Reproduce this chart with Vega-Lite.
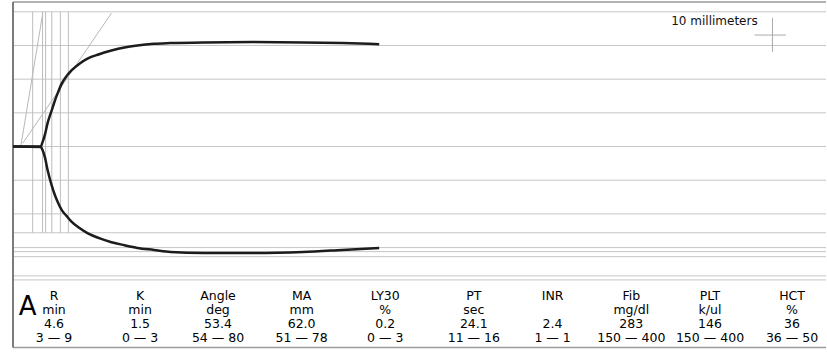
{
  "$schema": "https://vega.github.io/schema/vega-lite/v6.json",
  "width": 827,
  "height": 352,
  "autosize": {"type": "fit", "contains": "padding"},
  "padding": {"left": 8, "top": 0, "right": 0, "bottom": 0},
  "background": "white",
  "config": {"view": {"stroke": null}, "text": {"font": "DejaVu Sans"}},
  "datasets": {
    "curve": [
      {"t": 0, "upper": 0, "lower": 0},
      {"t": 4.5, "upper": 0, "lower": -0.15},
      {"t": 4.8, "upper": 1.3, "lower": -1.0},
      {"t": 5.2, "upper": 3.6, "lower": -3.3},
      {"t": 5.6, "upper": 6.8, "lower": -6.8},
      {"t": 6.3, "upper": 10.8, "lower": -11.6},
      {"t": 6.8, "upper": 13.6, "lower": -14.4},
      {"t": 7.3, "upper": 16.0, "lower": -16.6},
      {"t": 7.9, "upper": 18.6, "lower": -18.8},
      {"t": 8.7, "upper": 20.9, "lower": -20.6},
      {"t": 9.5, "upper": 22.6, "lower": -22.3},
      {"t": 10.8, "upper": 24.6, "lower": -24.2},
      {"t": 12.1, "upper": 26.1, "lower": -25.7},
      {"t": 14.0, "upper": 27.4, "lower": -27.2},
      {"t": 16.0, "upper": 28.5, "lower": -28.4},
      {"t": 18.1, "upper": 29.4, "lower": -29.3},
      {"t": 20.2, "upper": 30.0, "lower": -30.1},
      {"t": 22.9, "upper": 30.5, "lower": -30.7},
      {"t": 25.6, "upper": 30.7, "lower": -31.3},
      {"t": 31.0, "upper": 30.9, "lower": -31.6},
      {"t": 39.0, "upper": 31.0, "lower": -31.6},
      {"t": 47.1, "upper": 30.9, "lower": -31.3},
      {"t": 53.5, "upper": 30.7, "lower": -30.7},
      {"t": 59.5, "upper": 30.4, "lower": -30.1}
    ],
    "hgrid": [
      {"mm": 40}, {"mm": 30}, {"mm": 20}, {"mm": 10}, {"mm": 0},
      {"mm": -10}, {"mm": -20}, {"mm": -25.6}, {"mm": -30}, {"mm": -31.2},
      {"mm": -32.7}, {"mm": -38.4}, {"mm": -39.6}
    ],
    "frame": [{"mm": 42.9}, {"mm": -59.7}],
    "leftEdge": [{"t": 0, "top": 42.9, "bottom": -59.7}],
    "vgrid": [
      {"t": 3.2}, {"t": 4.8}, {"t": 5.3}, {"t": 6.3}, {"t": 7.7}, {"t": 9.0}
    ],
    "tangents": [
      {"t1": 1.3, "a1": 0.45, "t2": 4.84, "a2": 39.6},
      {"t1": 1.6, "a1": 1.0, "t2": 16.0, "a2": 39.6}
    ],
    "scaleV": [{"t": 123.4, "a1": 38.2, "a2": 28.1}],
    "scaleH": [{"t1": 120.5, "t2": 125.6, "a": 33.1}],
    "scaleLabel": [{"t": 121.0, "a": 36.1, "label": "10 millimeters"}],
    "table": [
      {"col": 0, "param": "R", "unit": "min", "result": "4.6", "range": "3 — 9"},
      {"col": 1.05, "param": "K", "unit": "min", "result": "1.5", "range": "0 — 3"},
      {"col": 2.0, "param": "Angle", "unit": "deg", "result": "53.4", "range": "54 — 80"},
      {"col": 3.02, "param": "MA", "unit": "mm", "result": "62.0", "range": "51 — 78"},
      {"col": 4.04, "param": "LY30", "unit": "%", "result": "0.2", "range": "0 — 3"},
      {"col": 5.12, "param": "PT", "unit": "sec", "result": "24.1", "range": "11 — 16"},
      {"col": 6.08, "param": "INR", "unit": "", "result": "2.4", "range": "1 — 1"},
      {"col": 7.04, "param": "Fib", "unit": "mg/dl", "result": "283", "range": "150 — 400"},
      {"col": 8.0, "param": "PLT", "unit": "k/ul", "result": "146", "range": "150 — 400"},
      {"col": 9, "param": "HCT", "unit": "%", "result": "36", "range": "36 — 50"}
    ],
    "panel": [{"label": "A"}]
  },
  "layer": [
    {
      "layer": [
        {
          "data": {"name": "hgrid"},
          "mark": {"type": "rule", "color": "#c6c6c6", "strokeWidth": 1},
          "encoding": {
            "y": {"field": "mm", "type": "quantitative", "scale": {"domain": [-61, 43.5], "nice": false, "zero": false}, "axis": null}
          }
        },
        {
          "data": {"name": "frame"},
          "mark": {"type": "rule", "color": "#9a9a9a", "strokeWidth": 1.5},
          "encoding": {
            "y": {"field": "mm", "type": "quantitative", "scale": {"domain": [-61, 43.5], "nice": false, "zero": false}, "axis": null}
          }
        },
        {
          "data": {"name": "vgrid"},
          "mark": {"type": "rule", "color": "#bdbdbd", "strokeWidth": 1},
          "encoding": {
            "x": {"field": "t", "type": "quantitative", "scale": {"domain": [0, 132.1], "nice": false, "zero": false}, "axis": null},
            "y": {"datum": 40, "type": "quantitative", "scale": {"domain": [-61, 43.5], "nice": false, "zero": false}, "axis": null},
            "y2": {"datum": -25.6}
          }
        },
        {
          "data": {"name": "leftEdge"},
          "mark": {"type": "rule", "color": "#6e6e6e", "strokeWidth": 1.8},
          "encoding": {
            "x": {"field": "t", "type": "quantitative", "scale": {"domain": [0, 132.1], "nice": false, "zero": false}, "axis": null},
            "y": {"field": "top", "type": "quantitative", "scale": {"domain": [-61, 43.5], "nice": false, "zero": false}, "axis": null},
            "y2": {"field": "bottom"}
          }
        },
        {
          "data": {"name": "tangents"},
          "mark": {"type": "rule", "color": "#b8b8b8", "strokeWidth": 1},
          "encoding": {
            "x": {"field": "t1", "type": "quantitative", "scale": {"domain": [0, 132.1], "nice": false, "zero": false}, "axis": null},
            "x2": {"field": "t2"},
            "y": {"field": "a1", "type": "quantitative", "scale": {"domain": [-61, 43.5], "nice": false, "zero": false}, "axis": null},
            "y2": {"field": "a2"}
          }
        },
        {
          "data": {"name": "scaleV"},
          "mark": {"type": "rule", "color": "#aaaaaa", "strokeWidth": 1},
          "encoding": {
            "x": {"field": "t", "type": "quantitative", "scale": {"domain": [0, 132.1], "nice": false, "zero": false}, "axis": null},
            "y": {"field": "a1", "type": "quantitative", "scale": {"domain": [-61, 43.5], "nice": false, "zero": false}, "axis": null},
            "y2": {"field": "a2"}
          }
        },
        {
          "data": {"name": "scaleH"},
          "mark": {"type": "rule", "color": "#aaaaaa", "strokeWidth": 1},
          "encoding": {
            "x": {"field": "t1", "type": "quantitative", "scale": {"domain": [0, 132.1], "nice": false, "zero": false}, "axis": null},
            "x2": {"field": "t2"},
            "y": {"field": "a", "type": "quantitative", "scale": {"domain": [-61, 43.5], "nice": false, "zero": false}, "axis": null}
          }
        },
        {
          "data": {"name": "scaleLabel"},
          "mark": {"type": "text", "align": "right", "baseline": "alphabetic", "fontSize": 12, "color": "#111111"},
          "encoding": {
            "x": {"field": "t", "type": "quantitative", "scale": {"domain": [0, 132.1], "nice": false, "zero": false}, "axis": null},
            "y": {"field": "a", "type": "quantitative", "scale": {"domain": [-61, 43.5], "nice": false, "zero": false}, "axis": null},
            "text": {"field": "label"}
          }
        },
        {
          "data": {"name": "curve"},
          "mark": {"type": "line", "color": "#1c1c1c", "strokeWidth": 2.5, "interpolate": "monotone"},
          "encoding": {
            "x": {"field": "t", "type": "quantitative", "scale": {"domain": [0, 132.1], "nice": false, "zero": false}, "axis": null},
            "y": {"field": "upper", "type": "quantitative", "scale": {"domain": [-61, 43.5], "nice": false, "zero": false}, "axis": null}
          }
        },
        {
          "data": {"name": "curve"},
          "mark": {"type": "line", "color": "#1c1c1c", "strokeWidth": 2.5, "interpolate": "monotone"},
          "encoding": {
            "x": {"field": "t", "type": "quantitative", "scale": {"domain": [0, 132.1], "nice": false, "zero": false}, "axis": null},
            "y": {"field": "lower", "type": "quantitative", "scale": {"domain": [-61, 43.5], "nice": false, "zero": false}, "axis": null}
          }
        }
      ]
    },
    {
      "layer": [
        {
          "data": {"name": "table"},
          "mark": {"type": "text", "align": "center", "baseline": "alphabetic", "fontSize": 12.5, "color": "#000000"},
          "encoding": {
            "x": {"field": "col", "type": "quantitative", "scale": {"domain": [0, 9], "range": [41, 779], "nice": false, "zero": false}, "axis": null},
            "y": {"datum": 0, "type": "quantitative", "scale": {"domain": [0, 3], "range": [300, 342], "nice": false, "zero": false}, "axis": null},
            "text": {"field": "param"}
          }
        },
        {
          "data": {"name": "table"},
          "mark": {"type": "text", "align": "center", "baseline": "alphabetic", "fontSize": 12.5, "color": "#000000"},
          "encoding": {
            "x": {"field": "col", "type": "quantitative", "scale": {"domain": [0, 9], "range": [41, 779], "nice": false, "zero": false}, "axis": null},
            "y": {"datum": 1, "type": "quantitative", "scale": {"domain": [0, 3], "range": [300, 342], "nice": false, "zero": false}, "axis": null},
            "text": {"field": "unit"}
          }
        },
        {
          "data": {"name": "table"},
          "mark": {"type": "text", "align": "center", "baseline": "alphabetic", "fontSize": 12.5, "color": "#000000"},
          "encoding": {
            "x": {"field": "col", "type": "quantitative", "scale": {"domain": [0, 9], "range": [41, 779], "nice": false, "zero": false}, "axis": null},
            "y": {"datum": 2, "type": "quantitative", "scale": {"domain": [0, 3], "range": [300, 342], "nice": false, "zero": false}, "axis": null},
            "text": {"field": "result"}
          }
        },
        {
          "data": {"name": "table"},
          "mark": {"type": "text", "align": "center", "baseline": "alphabetic", "fontSize": 12.5, "color": "#000000"},
          "encoding": {
            "x": {"field": "col", "type": "quantitative", "scale": {"domain": [0, 9], "range": [41, 779], "nice": false, "zero": false}, "axis": null},
            "y": {"datum": 3, "type": "quantitative", "scale": {"domain": [0, 3], "range": [300, 342], "nice": false, "zero": false}, "axis": null},
            "text": {"field": "range"}
          }
        },
        {
          "data": {"name": "panel"},
          "mark": {"type": "text", "align": "center", "baseline": "alphabetic", "fontSize": 26, "color": "#000000"},
          "encoding": {
            "x": {"datum": -0.32, "type": "quantitative", "scale": {"domain": [0, 9], "range": [41, 779], "nice": false, "zero": false}, "axis": null},
            "y": {"datum": 1.07, "type": "quantitative", "scale": {"domain": [0, 3], "range": [300, 342], "nice": false, "zero": false}, "axis": null},
            "text": {"field": "label"}
          }
        }
      ]
    }
  ],
  "resolve": {"scale": {"x": "independent", "y": "independent"}}
}
